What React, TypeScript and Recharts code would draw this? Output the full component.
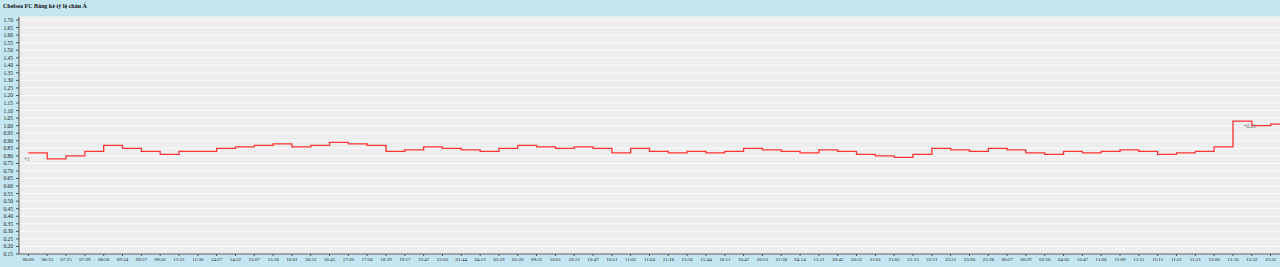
import React from 'react';
import { LineChart, Line, XAxis, YAxis, CartesianGrid } from 'recharts';

const chartTitle = 'Chelsea FC Bảng kê tỷ lệ châu Á';

const timeLabels = [
  '06:00', '06:33', '07:25', '07:39', '08:50', '09:24', '09:37', '09:56', '11:22', '11:36',
  '14:27', '14:32', '15:07', '15:18', '16:01', '16:22', '16:45', '17:20', '17:26', '18:39',
  '19:17', '22:47', '23:03', '01:44', '04:13', '05:19', '05:20', '09:31', '10:01', '10:21',
  '10:47', '10:51', '11:02', '11:04', '11:18', '13:50', '15:44', '16:11', '16:47', '20:53',
  '21:58', '04:14', '15:11', '20:45', '20:52', '21:01', '21:05', '21:13', '22:11', '22:21',
  '23:00', '23:28', '00:27', '00:29', '03:16', '04:02', '10:47', '11:06', '11:09', '11:11',
  '11:11', '11:21', '11:21', '12:00', '12:16', '12:32', '12:32',
];

const ratios = [
  0.82, 0.78, 0.80, 0.83, 0.87, 0.85, 0.83, 0.81, 0.83, 0.83,
  0.85, 0.86, 0.87, 0.88, 0.86, 0.87, 0.89, 0.88, 0.87, 0.83,
  0.84, 0.86, 0.85, 0.84, 0.83, 0.85, 0.87, 0.86, 0.85, 0.86,
  0.85, 0.82, 0.85, 0.83, 0.82, 0.83, 0.82, 0.83, 0.85, 0.84,
  0.83, 0.82, 0.84, 0.83, 0.81, 0.80, 0.79, 0.81, 0.85, 0.84,
  0.83, 0.85, 0.84, 0.82, 0.81, 0.83, 0.82, 0.83, 0.84, 0.83,
  0.81, 0.82, 0.83, 0.86, 1.03, 1.00, 1.01,
];

const yTicks = [
  0.15, 0.2, 0.25, 0.3, 0.35, 0.4, 0.45, 0.5, 0.55, 0.6, 0.65, 0.7, 0.75, 0.8,
  0.85, 0.9, 0.95, 1.0, 1.05, 1.1, 1.15, 1.2, 1.25, 1.3, 1.35, 1.4, 1.45, 1.5,
  1.55, 1.6, 1.65, 1.7,
];

const noteIndexes = [0, 65];
const noteTexts = ['+1', '+0.21'];

const xTicks = timeLabels.map((_, i) => i);
const lastIndex = ratios.length - 1;
const rows = ratios.map((v, i) => ({ i, v }));
rows.push({ i: lastIndex + 0.5, v: ratios[lastIndex] });

const FONT = '"Liberation Serif", "Times New Roman", serif';
const BG = '#c4e6f1';

const renderNote = (props: any) => {
  const k = noteIndexes.indexOf(props.index);
  if (k < 0) return <g key={`n${props.index}`} />;
  const first = k === 0;
  return (
    <text
      key={`n${props.index}`}
      x={props.x + (first ? -1.5 : -2)}
      y={props.y + (first ? 6 : 0)}
      textAnchor="middle"
      dominantBaseline="central"
      fontSize={5.5}
      fontFamily={FONT}
      fill="#666"
    >
      {noteTexts[k]}
    </text>
  );
};

export default function App() {
  return (
    <div
      style={{
        position: 'absolute',
        left: 0,
        top: 0,
        width: 1280,
        height: 267,
        background: BG,
        overflow: 'hidden',
      }}
    >
      <div
        style={{
          position: 'absolute',
          left: 3,
          top: 3,
          fontFamily: FONT,
          fontWeight: 'bold',
          fontSize: 6,
          color: '#111',
          lineHeight: '7px',
          whiteSpace: 'nowrap',
        }}
      >
        {chartTitle}
      </div>
      <LineChart
        width={1280}
        height={267}
        data={rows}
        margin={{ top: 17, right: 0, bottom: 0, left: 0 }}
        style={{ position: 'absolute', left: 0, top: 0 }}
      >
        <CartesianGrid vertical={false} stroke="#fbfbfb" strokeWidth={1} fill="#eeeeee" fillOpacity={1} />
        <XAxis
          dataKey="i"
          type="number"
          domain={[-0.5, lastIndex + 0.5]}
          ticks={xTicks}
          interval={0}
          tickFormatter={(i: number) => timeLabels[i] ?? ''}
          height={13}
          tickSize={2}
          tickMargin={1}
          stroke="#555"
          tick={{ fontSize: 5, fontFamily: FONT, fill: '#222' }}
          allowDecimals
        />
        <YAxis
          type="number"
          domain={[0.15, 1.72]}
          ticks={yTicks}
          interval={0}
          width={19}
          tickSize={3}
          tickMargin={3}
          stroke="#555"
          tickFormatter={(v: number) => v.toFixed(2)}
          tick={{ fontSize: 5.5, fontFamily: FONT, fill: '#222' }}
          allowDataOverflow
        />
        <Line
          type="stepAfter"
          dataKey="v"
          stroke="#ff3333"
          strokeWidth={1.3}
          dot={false}
          activeDot={false}
          isAnimationActive={false}
          label={renderNote}
        />
      </LineChart>
    </div>
  );
}
